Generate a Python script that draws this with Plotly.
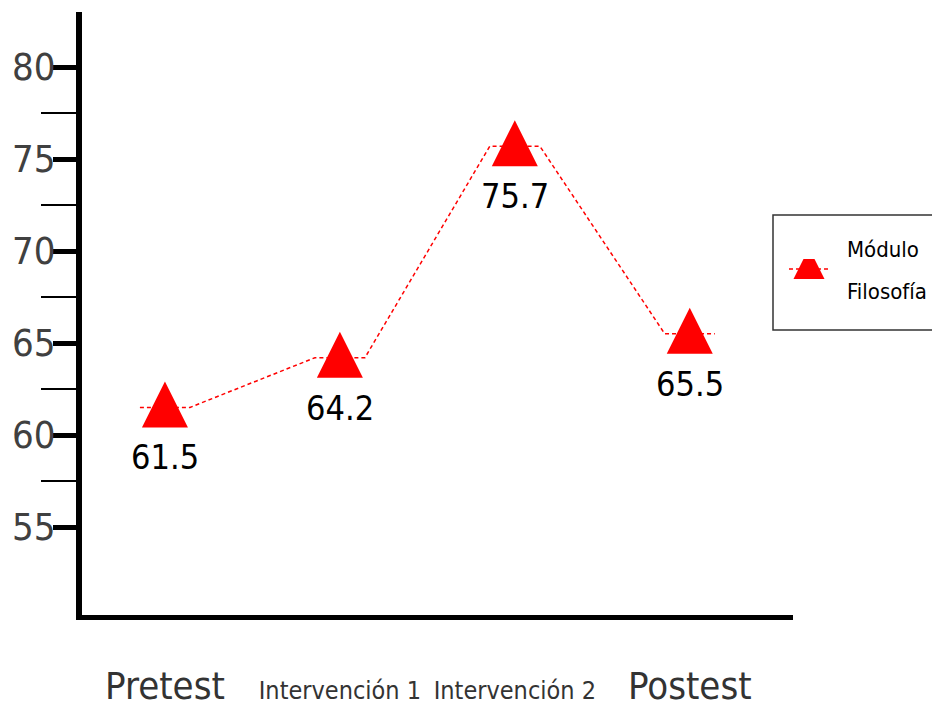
import plotly.graph_objects as go

# Scores per stage of the module
categories = ["Pretest", "Intervención 1", "Intervención 2", "Postest"]
scores = [61.5, 64.2, 75.7, 65.5]
series_lines = ["Módulo", "Filosofía"]
y_ticks = [55, 60, 65, 70, 75, 80]
y_minor_ticks = [57.5, 62.5, 67.5, 72.5, 77.5]

FONT = "DejaVu Sans Condensed, Liberation Sans Narrow, Arial Narrow, sans-serif"
RED = "#ff0000"

W, H = 932, 707
M_L, M_R, M_T, M_B = 82, 0, 12, 92
PLOT_RIGHT = 793  # right end of the x axis line (px)

pos = list(range(len(categories)))
half = 0.143  # flat shoulder on either side of each point

line_x, line_y = [], []
for p, v in zip(pos, scores):
    line_x += [p - half, p + half]
    line_y += [v, v]


def tick_label(c):
    # long category names are set smaller so they do not collide
    if len(c) > 8:
        return f"<span style='font-size:25px'>{c}</span>"
    return c


fig = go.Figure()
fig.add_trace(go.Scatter(
    x=line_x, y=line_y, mode="lines",
    line=dict(color=RED, width=1.5, dash="4px,3px"),
    hoverinfo="skip", showlegend=False))
fig.add_trace(go.Scatter(
    x=pos, y=scores, mode="markers",
    marker=dict(symbol="arrow-down", angle=180, standoff=26, size=46,
                color=RED, line=dict(width=0)),
    showlegend=False))

for p, v in zip(pos, scores):
    fig.add_annotation(x=p, y=v, text=f"{v:.1f}", showarrow=False,
                       yshift=-50, font=dict(family=FONT, size=34, color="black"))

# legend key drawn on a small inset axis
paper_w = W - M_L - M_R
paper_h = H - M_T - M_B


def px_x(px):
    return (px - M_L) / paper_w


def px_y(py):
    return (H - M_B - py) / paper_h


fig.add_trace(go.Scatter(
    x=[0.08, 0.88], y=[0, 0], xaxis="x2", yaxis="y2", mode="lines",
    line=dict(color=RED, width=1.5, dash="4px,3px"),
    hoverinfo="skip", showlegend=False))
fig.add_trace(go.Scatter(
    x=[0.48], y=[0], xaxis="x2", yaxis="y2", mode="markers",
    marker=dict(symbol="arrow-down", angle=180, standoff=21, size=36,
                color=RED, line=dict(width=0)),
    hoverinfo="skip", showlegend=False))

fig.add_shape(type="rect", xref="paper", yref="paper",
              x0=px_x(773), x1=px_x(940), y0=px_y(330), y1=px_y(215),
              line=dict(color="#333333", width=1.5), fillcolor="white", layer="below")
fig.add_annotation(xref="paper", yref="paper", x=px_x(845), y=px_y(249),
                   xanchor="left", yanchor="middle", showarrow=False,
                   text=series_lines[0], font=dict(family=FONT, size=22, color="black"))
fig.add_annotation(xref="paper", yref="paper", x=px_x(845), y=px_y(291),
                   xanchor="left", yanchor="middle", showarrow=False,
                   text=series_lines[1], font=dict(family=FONT, size=22, color="black"))

fig.update_layout(
    width=W, height=H,
    margin=dict(l=M_L, r=M_R, t=M_T, b=M_B),
    paper_bgcolor="white", plot_bgcolor="white",
    showlegend=False,
    xaxis=dict(
        domain=[0, px_x(PLOT_RIGHT)],
        range=[-0.474, 3.59],
        tickmode="array", tickvals=pos,
        ticktext=[tick_label(c) for c in categories],
        tickangle=0, automargin=False,
        ticks="", showgrid=False, zeroline=False,
        showline=True, linewidth=5, linecolor="black",
        tickfont=dict(family=FONT, size=38, color="#333333"),
        ticklabelstandoff=33,
    ),
    yaxis=dict(
        range=[50.22, 82.99], automargin=False,
        tickmode="array", tickvals=y_ticks,
        ticks="outside", ticklen=23, tickwidth=5, tickcolor="black",
        minor=dict(tickmode="array", tickvals=y_minor_ticks, ticks="outside",
                   ticklen=35, tickwidth=1.5, tickcolor="black", showgrid=False),
        showgrid=False, zeroline=False,
        showline=True, linewidth=6, linecolor="black",
        tickfont=dict(family=FONT, size=38, color="#404040"),
        ticklabelstandoff=-10,
    ),
    xaxis2=dict(domain=[px_x(785), px_x(835)], range=[0, 1], anchor="y2",
                visible=False, fixedrange=True),
    yaxis2=dict(domain=[px_y(279), px_y(259)], range=[-1, 1], anchor="x2",
                visible=False, fixedrange=True),
)

fig.write_html("out.html", config={"displayModeBar": False})
